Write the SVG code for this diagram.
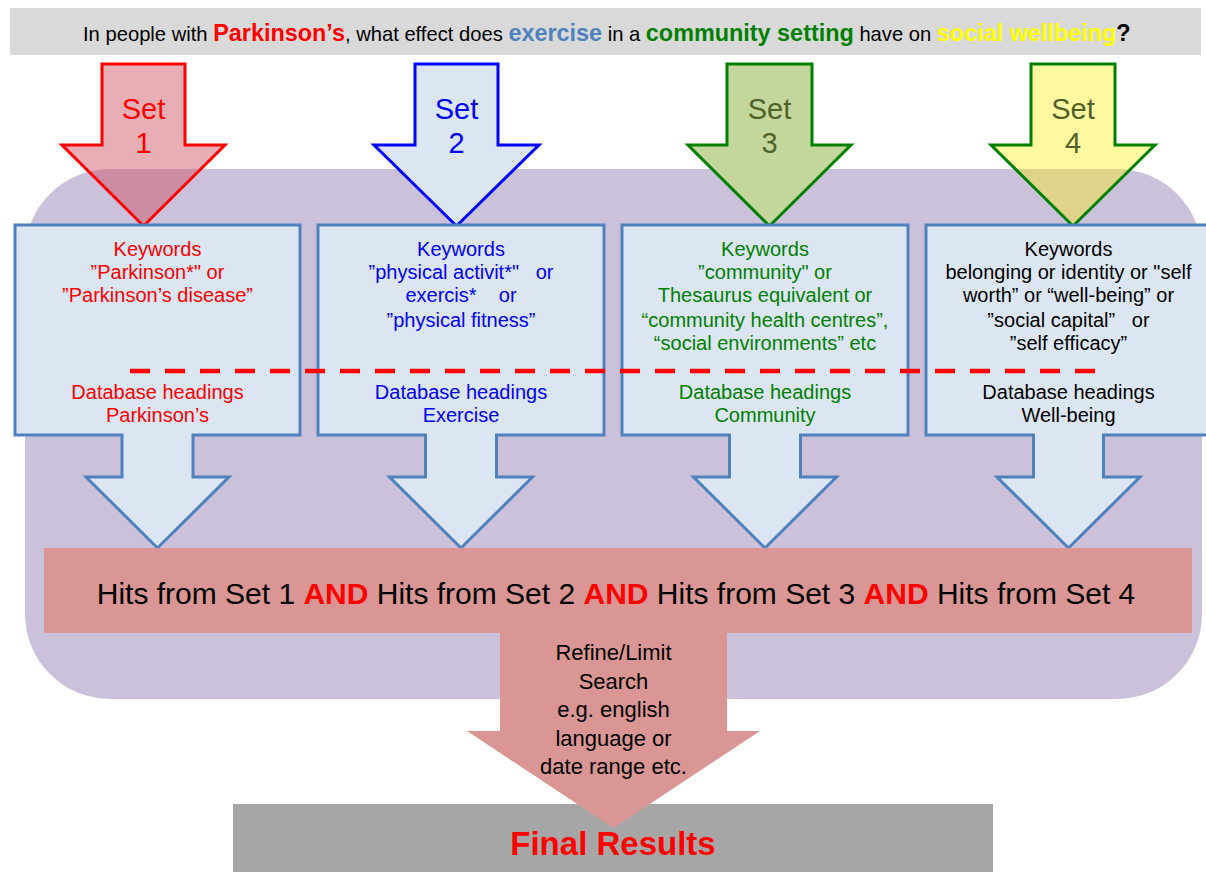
<svg xmlns="http://www.w3.org/2000/svg" width="1206" height="872" viewBox="0 0 1206 872">
<style>
text{font-family:"Liberation Sans",Arial,sans-serif;}
.setar{stroke-width:3;stroke-linejoin:miter;}
.settx{font-size:29px;text-anchor:middle;}
.box{fill:#dce6f2;stroke:#4f81bd;stroke-width:3;stroke-linejoin:miter;}
.bt{font-size:20px;text-anchor:middle;white-space:pre;}
.b{font-weight:bold;}
</style>
<rect id="bg" x="0" y="0" width="1206" height="872" fill="#ffffff"/>
<g id="title">
<rect x="10" y="8" width="1191" height="47" fill="#d9d9d9"/>
<text x="83" y="41" font-size="20.2" fill="#000">In people with <tspan class="b" font-size="23.4" fill="#ff0000">Parkinson’s</tspan>, what effect does <tspan class="b" font-size="23.4" fill="#4f81bd">exercise</tspan> in a <tspan class="b" font-size="23.4" fill="#008000">community setting</tspan> have on <tspan class="b" font-size="23.4" fill="#ffff00">social wellbeing</tspan><tspan class="b" font-size="23.4">?</tspan></text>
</g>
<g id="search-area">
<rect x="25" y="169" width="1177" height="530" rx="85" ry="85" fill="#ccc1da"/>
</g>
<g id="set1">
<path class="setar" d="M102,64 H185 V145 H225 L143.5,226 L62,145 H102 Z" fill="rgb(205,79,96)" fill-opacity="0.46" stroke="#ff0000"/>
<text class="settx" x="143.5" y="119" fill="#ff0000">Set</text>
<text class="settx" x="143.5" y="153" fill="#ff0000">1</text>
</g>
<g id="set2">
<path class="setar" d="M415,64 H498 V145 H539 L456.5,226 L374,145 H415 Z" fill="#dce6f2" stroke="#0000ff"/>
<text class="settx" x="456.5" y="119" fill="#0000ff">Set</text>
<text class="settx" x="456.5" y="153" fill="#0000ff">2</text>
</g>
<g id="set3">
<path class="setar" d="M727,64 H812 V145 H851 L769.5,226 L688,145 H727 Z" fill="#c3d69b" stroke="#008000"/>
<text class="settx" x="769.5" y="119" fill="#4f6228">Set</text>
<text class="settx" x="769.5" y="153" fill="#4f6228">3</text>
</g>
<g id="set4">
<path class="setar" d="M1031,64 H1115 V145 H1155 L1073,226 L991,145 H1031 Z" fill="rgb(255,240,0)" fill-opacity="0.37" stroke="#008000"/>
<text class="settx" x="1073" y="119" fill="#4f6228">Set</text>
<text class="settx" x="1073" y="153" fill="#4f6228">4</text>
</g>
<g id="keywords1">
<path class="box" d="M15,225 H300 V435 H193 V477 H229 L157.5,548 L86,477 H122 V435 H15 Z"/>
<g class="bt" fill="#ff0000">
<text x="157.5" y="256">Keywords</text>
<text x="157.5" y="279">”Parkinson*" or</text>
<text x="157.5" y="302">”Parkinson’s disease”</text>
<text x="157.5" y="399">Database headings</text>
<text x="157.5" y="422">Parkinson’s</text>
</g>
</g>
<g id="keywords2">
<path class="box" d="M318,225 H604 V435 H496.5 V477 H532.5 L461,548 L389.5,477 H425.5 V435 H318 Z"/>
<g class="bt" fill="#0000ff">
<text x="461" y="256">Keywords</text>
<text x="461" y="279" xml:space="preserve">”physical activit*"   or</text>
<text x="461" y="302" xml:space="preserve">exercis*    or</text>
<text x="461" y="327">”physical fitness”</text>
<text x="461" y="399">Database headings</text>
<text x="461" y="422">Exercise</text>
</g>
</g>
<g id="keywords3">
<path class="box" d="M622,225 H908 V435 H800.5 V477 H836.5 L765,548 L693.5,477 H729.5 V435 H622 Z"/>
<g class="bt" fill="#008000">
<text x="765" y="256">Keywords</text>
<text x="765" y="279">”community" or</text>
<text x="765" y="302">Thesaurus equivalent or</text>
<text x="765" y="327">“community health centres”,</text>
<text x="765" y="350">“social environments” etc</text>
<text x="765" y="399">Database headings</text>
<text x="765" y="422">Community</text>
</g>
</g>
<g id="keywords4">
<path class="box" d="M926,225 H1211 V435 H1103.5 V477 H1140 L1068.5,548 L997,477 H1033.5 V435 H926 Z"/>
<g class="bt" fill="#000000">
<text x="1068.5" y="256">Keywords</text>
<text x="1068.5" y="279">belonging or identity or "self</text>
<text x="1068.5" y="302">worth” or “well-being” or</text>
<text x="1068.5" y="327" xml:space="preserve">”social capital”   or</text>
<text x="1068.5" y="350">”self efficacy”</text>
<text x="1068.5" y="399">Database headings</text>
<text x="1068.5" y="422">Well-being</text>
</g>
</g>
<g id="divider">
<line x1="130" y1="371" x2="1099" y2="371" stroke="#ff0000" stroke-width="4.5" stroke-dasharray="20 15"/>
</g>
<g id="hits">
<rect x="44" y="548" width="1148" height="85" fill="#d99694"/>
<text x="616" y="604" font-size="30" text-anchor="middle" fill="#000">Hits from Set 1 <tspan class="b" fill="#ff0000">AND</tspan> Hits from Set 2 <tspan class="b" fill="#ff0000">AND</tspan> Hits from Set 3 <tspan class="b" fill="#ff0000">AND</tspan> Hits from Set 4</text>
</g>
<g id="final">
<rect x="233" y="804" width="760" height="68" fill="#a6a6a6"/>
</g>
<g id="refine">
<path d="M500,633 H727 V731 H760 L613.5,828 L467,731 H500 Z" fill="#d99694"/>
<g font-size="22" text-anchor="middle" fill="#000">
<text x="613.5" y="660">Refine/Limit</text>
<text x="613.5" y="688.5">Search</text>
<text x="613.5" y="717">e.g. english</text>
<text x="613.5" y="745.5">language or</text>
<text x="613.5" y="774">date range etc.</text>
</g>
</g>
<g id="final-label">
<text x="613" y="855" font-size="33" font-weight="bold" text-anchor="middle" fill="#ff0000">Final Results</text>
</g>
<g id="connectors"/>
</svg>
